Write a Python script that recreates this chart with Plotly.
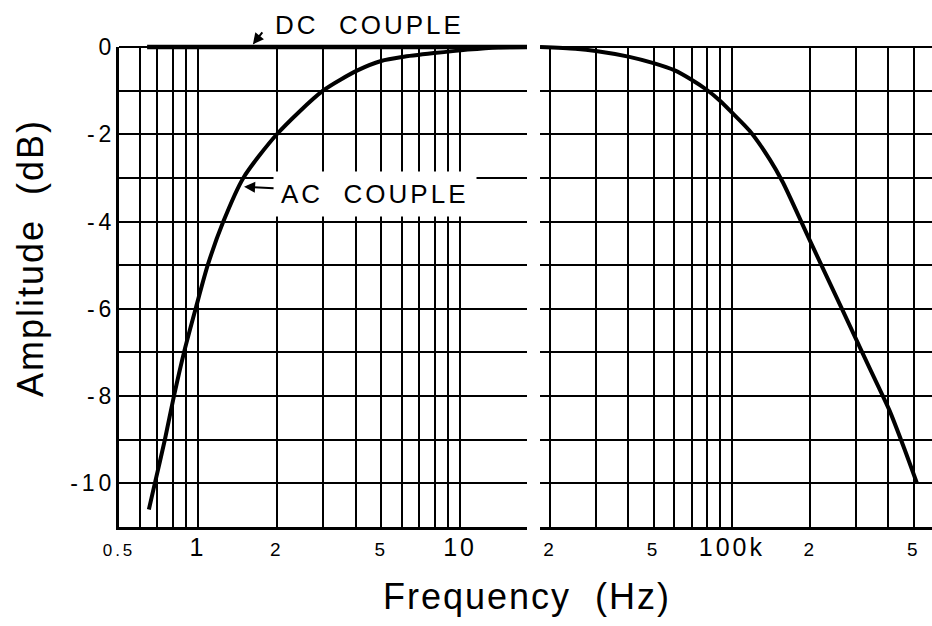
import math
import plotly.graph_objects as go

# ---------------- data ----------------
# AC-coupled low-frequency response (left panel)
ac_freq_hz = [0.650, 0.685, 0.748, 0.81, 0.885, 0.98, 1.09, 1.25, 1.49, 2.0, 3.0,
              4.08, 5.0, 6.0, 7.95, 10.7, 14.0, 18.0]
ac_db = [-10.6, -10.0, -9.0, -8.0, -7.0, -6.0, -5.0, -4.0, -3.0, -2.0, -1.0,
         -0.53, -0.32, -0.23, -0.14, -0.06, -0.01, 0.0]

# DC-coupled response (flat)
dc_freq_hz = [0.64, 18.0]
dc_db = [0.0, 0.0]

# High-frequency roll-off (right panel)
hf_freq_hz = [18300, 25000, 30000, 40000, 50000, 60000, 70000, 80000, 90000,
              100000, 117000, 140000, 157000, 200000, 265000, 320000, 367000,
              405000, 460000, 515000]
hf_db = [0.0, -0.04, -0.09, -0.22, -0.37, -0.53, -0.75, -0.98, -1.23,
         -1.5, -1.92, -2.58, -3.1, -4.45, -6.0, -7.05, -7.8,
         -8.35, -9.2, -10.0]

# grid / tick definitions
left_grid_hz = [0.5, 0.6, 0.7, 0.8, 0.9, 1, 2, 3, 4, 5, 6, 7, 8, 9, 10]
left_tick_labels = {0.5: "0.5", 1: "1", 2: "2", 5: "5", 10: "10"}
right_grid_hz = [20000, 30000, 40000, 50000, 60000, 70000, 80000, 90000,
                 100000, 200000, 300000, 400000, 500000]
right_tick_labels = {20000: "2", 50000: "5", 100000: "100k", 200000: "2", 500000: "5"}
big_labels = {"1", "10", "100k"}
y_grid_db = [0, -1, -2, -3, -4, -5, -6, -7, -8, -9, -10, -11]
y_tick_labels = {0: "0", -2: "-2", -4: "-4", -6: "-6", -8: "-8", -10: "-10"}

x_left_range_hz = [0.5, 18.0]
x_right_range_hz = [18300, 588000]
y_range_db = [-11, 0]

# ---------------- styling ----------------
FONT = "Liberation Sans, Arial, Helvetica, sans-serif"
W, H = 932, 626
TOP, BOT = 37, 99            # margins
PLOT_H = 480                 # height of the gridded area (0 dB .. -11 dB)
EXTRA = H - TOP - BOT - PLOT_H   # headroom for unclipped thick lines


def xlabel(t):
    if not t:
        return ""
    if t in big_labels:
        return f'<span style="font-size:25px;letter-spacing:3px">{t}</span>'
    if t == "0.5":
        return f'<span style="font-size:17px;letter-spacing:3px">{t}</span>'
    return f'<span style="letter-spacing:3px">{t}</span>'


def ylabel(t):
    if not t:
        return ""
    if len(t) == 1:
        return t
    # tracked characters, no trailing spacing after the last digit
    return f'<span style="letter-spacing:4px">{t[:-1]}</span>{t[-1]}'


fig = go.Figure()

# transparent copies keep the gridded subplots alive
fig.add_trace(go.Scatter(x=ac_freq_hz, y=ac_db, mode="lines",
                         line=dict(color="rgba(0,0,0,0)", width=0), hoverinfo="skip",
                         xaxis="x", yaxis="y", showlegend=False))
fig.add_trace(go.Scatter(x=hf_freq_hz, y=hf_db, mode="lines",
                         line=dict(color="rgba(0,0,0,0)", width=0), hoverinfo="skip",
                         xaxis="x2", yaxis="y2", showlegend=False))

# curves drawn on a slightly taller overlay subplot so thick lines at 0 dB are not clipped
fig.add_trace(go.Scatter(x=dc_freq_hz, y=dc_db, mode="lines",
                         line=dict(color="black", width=4.5),
                         xaxis="x3", yaxis="y3", showlegend=False))
fig.add_trace(go.Scatter(x=ac_freq_hz, y=ac_db, mode="lines",
                         line=dict(color="black", width=4, shape="spline", smoothing=0.7),
                         xaxis="x3", yaxis="y3", showlegend=False))
fig.add_trace(go.Scatter(x=hf_freq_hz, y=hf_db, mode="lines",
                         line=dict(color="black", width=4, shape="spline", smoothing=0.7),
                         xaxis="x4", yaxis="y3", showlegend=False))

grid_kw = dict(showgrid=True, gridcolor="black", gridwidth=2, ticks="",
               zeroline=False, automargin=False, tickangle=0)
hidden = dict(visible=False, automargin=False, showgrid=False, zeroline=False)

left_dom = [119 / W, 527 / W]
right_dom = [540 / W, 1.0]
main_ydom = [0, PLOT_H / (PLOT_H + EXTRA)]
ov_top = y_range_db[0] + (y_range_db[1] - y_range_db[0]) * (PLOT_H + EXTRA) / PLOT_H

fig.update_layout(
    width=W, height=H, autosize=False,
    margin=dict(l=0, r=0, t=TOP, b=BOT, pad=0, autoexpand=False),
    paper_bgcolor="white", plot_bgcolor="rgba(0,0,0,0)",
    font=dict(family=FONT, color="black"),
    showlegend=False, hovermode=False,
    xaxis=dict(type="log", domain=left_dom,
               range=[math.log10(v) for v in x_left_range_hz],
               tickvals=left_grid_hz,
               ticktext=[xlabel(left_tick_labels.get(v, "")) for v in left_grid_hz],
               tickfont=dict(size=19), ticklabelstandoff=3,
               showline=True, linecolor="black", linewidth=3,
               anchor="y", **grid_kw),
    xaxis2=dict(type="log", domain=right_dom,
                range=[math.log10(v) for v in x_right_range_hz],
                tickvals=right_grid_hz,
                ticktext=[xlabel(right_tick_labels.get(v, "")) for v in right_grid_hz],
                tickfont=dict(size=19), ticklabelstandoff=3,
                showline=True, linecolor="black", linewidth=3,
                anchor="y2", **grid_kw),
    yaxis=dict(range=y_range_db, domain=main_ydom, anchor="x",
               tickvals=y_grid_db,
               ticktext=[ylabel(y_tick_labels.get(v, "")) for v in y_grid_db],
               tickfont=dict(size=23), ticklabelstandoff=0,
               showline=True, linecolor="black", linewidth=3, automargin=False,
               showgrid=True, gridcolor="black", gridwidth=2, ticks="",
               zeroline=True, zerolinecolor="black", zerolinewidth=2),
    yaxis2=dict(range=y_range_db, domain=main_ydom, anchor="x2",
                tickvals=y_grid_db, showticklabels=False, automargin=False,
                showline=False,
                showgrid=True, gridcolor="black", gridwidth=2, ticks="",
                zeroline=True, zerolinecolor="black", zerolinewidth=2),
    # overlay axes (invisible) used only to draw the curves
    xaxis3=dict(type="log", domain=left_dom,
                range=[math.log10(v) for v in x_left_range_hz], anchor="y3", **hidden),
    xaxis4=dict(type="log", domain=right_dom,
                range=[math.log10(v) for v in x_right_range_hz], anchor="y3", **hidden),
    yaxis3=dict(range=[y_range_db[0], ov_top], domain=[0, 1], anchor="x3", **hidden),
)

annotations = [
    # axis titles
    dict(text='<span style="letter-spacing:2px">Amplitude  (dB)</span>',
         xref="paper", yref="paper", x=30 / W, y=(PLOT_H - 211) / (PLOT_H + EXTRA),
         xanchor="center", yanchor="middle", textangle=-90, showarrow=False,
         font=dict(size=36)),
    dict(text='<span style="letter-spacing:2px">Frequency  (Hz)</span>',
         xref="paper", yref="paper", x=527 / W, y=(PLOT_H - 549) / (PLOT_H + EXTRA),
         xanchor="center", yanchor="middle", showarrow=False,
         font=dict(size=36)),
    # DC COUPLE label + arrow
    dict(text='<span style="letter-spacing:3px">DC  COUPLE</span>',
         xref="paper", yref="paper", x=369 / W, y=(PLOT_H + 22) / (PLOT_H + EXTRA),
         xanchor="center", yanchor="middle", showarrow=False,
         font=dict(size=26)),
    dict(text=" ", xref="x3", yref="y3", x=math.log10(1.62), y=0.06,
         ax=11, ay=-14, showarrow=True, arrowhead=2, arrowsize=1.1,
         arrowwidth=2, arrowcolor="black", standoff=0, font=dict(size=1)),
    # AC COUPLE label (white box) + arrow
    dict(text='<span style="letter-spacing:3px">AC  COUPLE</span>',
         xref="x", yref="y", x=math.log10(1.5), y=-3.2,
         ax=131, ay=7, showarrow=True, arrowhead=2, arrowsize=1.1,
         arrowwidth=2, arrowcolor="black", standoff=0,
         bgcolor="white", borderpad=7, font=dict(size=26)),
]
fig.update_layout(annotations=annotations)

fig.write_html("out.html", config={"displayModeBar": False},
               post_script="document.body.style.margin='0px';")
